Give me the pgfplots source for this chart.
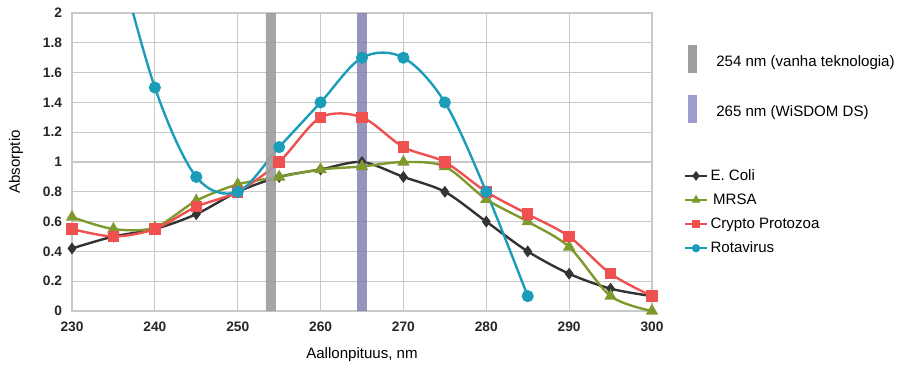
\documentclass[border=0pt]{standalone}
\usepackage{pgfplots}
\pgfplotsset{compat=1.18}
\usepackage{fontspec}
\setmainfont{Liberation Sans}
\definecolor{ecoli}{HTML}{333333}
\definecolor{mrsa}{HTML}{7F9A2C}
\definecolor{crypto}{HTML}{EF5050}
\definecolor{rota}{HTML}{1B9DBA}
\definecolor{barA}{HTML}{9E9EA0}
\definecolor{barB}{HTML}{7D7DAE}
\definecolor{legB}{HTML}{9E9ECE}
\definecolor{gridc}{HTML}{C8C8C8}
\begin{document}
\begin{tikzpicture}[x=1pt,y=1pt]
\begin{axis}[
  scale only axis, width=435pt, height=223.5pt,
  xmin=230, xmax=300, ymin=0, ymax=2,
  xtick={230,240,...,300}, ytick={0,0.2,...,2.01},
  yticklabels={0,0.2,0.4,0.6,0.8,1,1.2,1.4,1.6,1.8,2},
  grid=major, major grid style={gridc, line width=0.8pt},
  axis line style={gridc, line width=0.8pt},
  major tick length=0pt,
  /pgf/number format/assume math mode=true,
  tick label style={font=\fontsize{10.3}{12}\selectfont\bfseries, text=black!85},
  xticklabel style={yshift=-4.5pt},
  yticklabel style={xshift=-4pt},
  xlabel={Aallonpituus, nm}, ylabel={Absorptio},
  label style={font=\fontsize{11.3}{13}\selectfont},
  xlabel style={yshift=-5pt},
  ylabel style={yshift=8pt},
  clip=true,
  legend style={at={(rel axis cs:1.055,0.485)}, anchor=north west, draw=none, fill=none,
    font=\fontsize{11.3}{13}\selectfont, row sep=4.6pt, inner sep=0pt,
    legend cell align=left},
  legend image code/.code={\draw[#1, mark repeat=2, mark phase=2, mark size=2.2pt]
      plot coordinates {(0pt,0pt)(8pt,0pt)(16pt,0pt)};},
]
\coordinate (ll) at (rel axis cs:0,0);
\coordinate (ur) at (rel axis cs:1,1);
\addplot[ecoli, line width=1.8pt, smooth, tension=0.5, mark=diamond*, mark size=3pt] coordinates {
(230,0.42)(235,0.50)(240,0.55)(245,0.65)(250,0.80)(255,0.90)(260,0.95)(265,1.00)
(270,0.90)(275,0.80)(280,0.60)(285,0.40)(290,0.25)(295,0.15)(300,0.10)};
\addlegendentry{E. Coli}
\addplot[mrsa, line width=1.8pt, smooth, tension=0.5, mark=triangle*, mark size=3.6pt] coordinates {
(230,0.63)(235,0.55)(240,0.56)(245,0.74)(250,0.85)(255,0.90)(260,0.95)(265,0.97)
(270,1.00)(275,0.97)(280,0.75)(285,0.60)(290,0.43)(295,0.10)(300,0.00)};
\addlegendentry{\,MRSA}
\addplot[crypto, line width=1.8pt, smooth, tension=0.5, mark=square*, mark size=3.4pt] coordinates {
(230,0.55)(235,0.50)(240,0.55)(245,0.70)(250,0.80)(255,1.00)(260,1.30)(265,1.30)
(270,1.10)(275,1.00)(280,0.80)(285,0.65)(290,0.50)(295,0.25)(300,0.10)};
\addlegendentry{Crypto Protozoa}
\addplot[rota, line width=1.8pt, smooth, tension=0.55, mark=*, mark size=3.6pt] coordinates {
(235,2.50)(240,1.50)(245,0.90)(250,0.80)(255,1.10)(260,1.40)(265,1.70)(270,1.70)
(275,1.40)(280,0.80)(285,0.10)};
\addlegendentry{Rotavirus}
\addplot[draw=none, fill=barA, fill opacity=0.92, forget plot] coordinates {
(253.4,0)(254.6,0)(254.6,2)(253.4,2)} \closedcycle;
\addplot[draw=none, fill=barB, fill opacity=0.82, forget plot] coordinates {
(264.4,0)(265.6,0)(265.6,2)(264.4,2)} \closedcycle;
\end{axis}
\path ([shift={(-54pt,-39pt)}]ll) rectangle ([shift={(186.75pt,9.75pt)}]ur);
% legend for bands
\fill[barA] ([shift={(27pt,-24pt)}]ur) rectangle ([shift={(34pt,-45pt)}]ur);
\node[anchor=west, font=\fontsize{11.3}{13}\selectfont, inner sep=0pt] at ([shift={(48pt,-37pt)}]ur) {254 nm (vanha teknologia)};
\fill[legB] ([shift={(27pt,-61.5pt)}]ur) rectangle ([shift={(34pt,-82.5pt)}]ur);
\node[anchor=west, font=\fontsize{11.3}{13}\selectfont, inner sep=0pt] at ([shift={(48pt,-74.5pt)}]ur) {265 nm (WiSDOM DS)};
\end{tikzpicture}
\end{document}
